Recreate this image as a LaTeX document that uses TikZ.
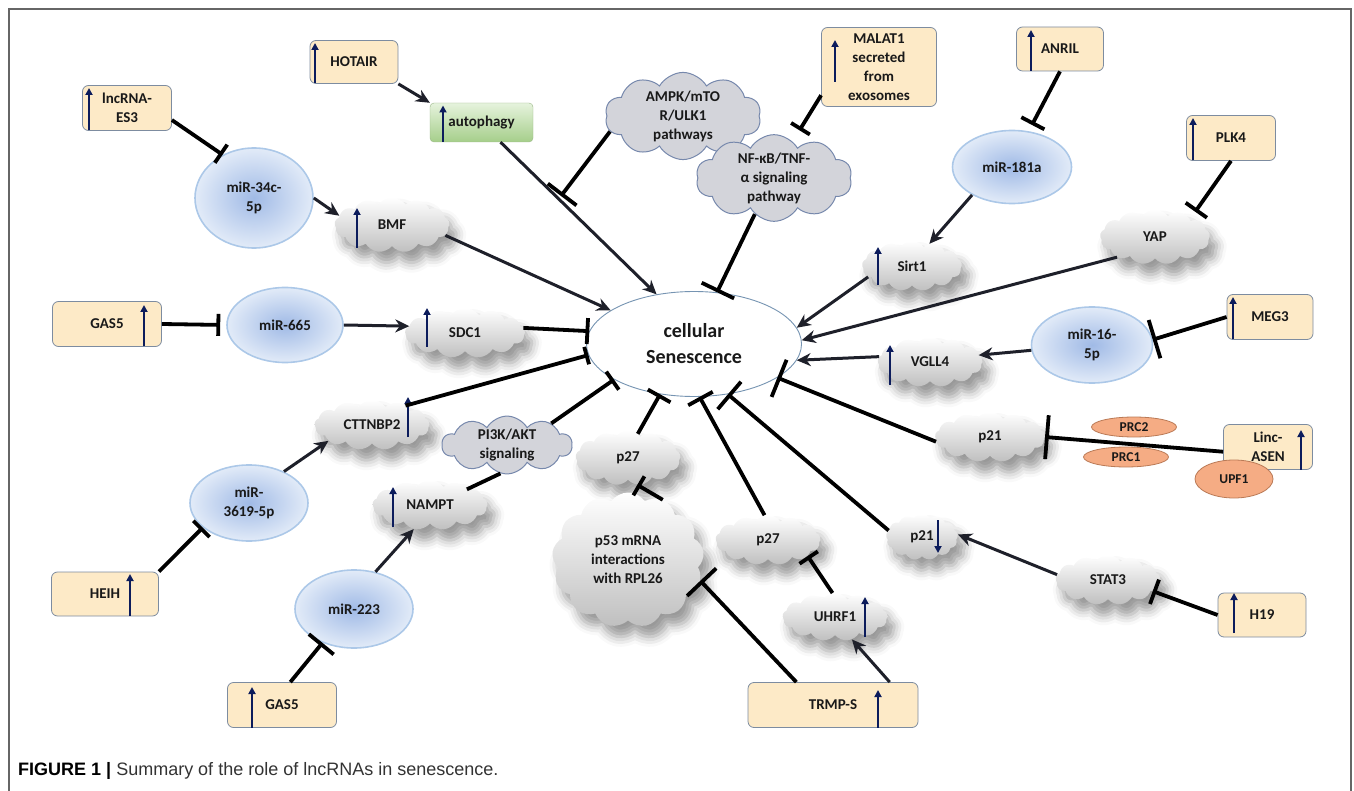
\documentclass[tikz,border=0pt]{standalone}
\usepackage{fontspec}
\setmainfont{Carlito}
\newfontfamily\capfont{Liberation Sans}
\usetikzlibrary{shapes.symbols, shapes.geometric, arrows.meta, shadows.blur}
\definecolor{boxcream}{RGB}{253,234,199}
\definecolor{boxedge}{RGB}{125,140,160}
\definecolor{mirblue}{RGB}{160,186,230}
\definecolor{mirpale}{RGB}{226,235,248}
\definecolor{miredge}{RGB}{172,200,232}
\definecolor{leafgreen}{RGB}{165,206,138}
\definecolor{leafpale}{RGB}{230,243,221}
\definecolor{salmon}{RGB}{245,172,132}
\definecolor{salmonedge}{RGB}{186,122,86}
\definecolor{upnavy}{RGB}{12,28,92}
\definecolor{routegray}{RGB}{211,212,218}
\definecolor{routeedge}{RGB}{118,136,172}
\definecolor{senedge}{RGB}{118,148,178}
\definecolor{linkgray}{RGB}{30,32,42}

\tikzset{
    lbl/.style={font=\fontsize{15}{19}\selectfont\bfseries, text=black!90, align=center, inner sep=0pt},
    rna/.style={lbl, draw=boxedge, fill=boxcream, rounded corners=6pt, line width=0.8pt},
    mir/.style={lbl, ellipse, draw=miredge, line width=1.6pt, inner color=mirblue, outer color=mirpale},
    puff/.style={lbl, cloud, cloud puffs=13, cloud puff arc=110, cloud ignores aspect,
        top color=white, bottom color=gray!50,
        blur shadow={shadow xshift=7pt, shadow yshift=-11pt, shadow blur radius=10pt, shadow opacity=40}},
    route/.style={lbl, cloud, cloud puffs=10, cloud puff arc=120, cloud ignores aspect,
        draw=routeedge, fill=routegray, line width=1pt},
    prot/.style={lbl, ellipse, draw=salmonedge, fill=salmon, line width=0.8pt, font=\fontsize{13.5}{15}\selectfont\bfseries},
    act/.style={draw=linkgray, line width=3pt, -{Stealth[length=14pt, width=13pt]}},
    inh/.style={draw=black, line width=3.8pt, -{Bar[width=#1]}},
    inh/.default=26pt,
    upmark/.style={draw=upnavy, line width=1.9pt, -{Triangle[length=7pt, width=7pt]}}
}

\begin{document}
\begin{tikzpicture}[x=1pt, y=-1pt]
    \useasboundingbox (0,0) rectangle (1354,791);
    \draw[black!60, line width=1.4pt] (9,791) |- (1351,9) -- (1351,791);

    % lncRNA boxes
    \node[rna, minimum width=89pt,  minimum height=45pt] (es3)    at (127,108)  {lncRNA-\\ES3};
    \node[rna, minimum width=88pt,  minimum height=43pt] (hotair) at (354,62)   {HOTAIR};
    \node[rna, minimum width=115pt, minimum height=79pt] (malat)  at (879,67)   {MALAT1\\secreted\\from\\exosomes};
    \node[rna, minimum width=87pt,  minimum height=44pt] (anril)  at (1060,49)  {ANRIL};
    \node[rna, minimum width=89pt,  minimum height=45pt] (plk4)   at (1231,138) {PLK4};
    \node[rna, minimum width=86pt,  minimum height=45pt] (meg3)   at (1270,317) {MEG3};
    \node[rna, minimum width=109pt, minimum height=45pt] (gas5a)  at (107,324)  {GAS5};
    \node[rna, minimum width=107pt, minimum height=44pt] (heih)   at (105,594)  {HEIH};
    \node[rna, minimum width=109pt, minimum height=45pt] (gas5b)  at (282,705)  {GAS5};
    \node[rna, minimum width=170pt, minimum height=45pt] (trmps)  at (833,705)  {TRMP-S};
    \node[rna, minimum width=88pt,  minimum height=44pt] (h19)    at (1262,615) {H19};
    \node[rna, minimum width=89pt,  minimum height=45pt] (asen)   at (1268,447) {Linc-\\ASEN};
    \node[lbl, draw=leafgreen!70!gray, top color=leafpale, bottom color=leafgreen, rounded corners=4pt,
        minimum width=103pt, minimum height=39pt] (autoph) at (481.5,122.5) {autophagy};

    % miRNAs
    \node[mir, minimum width=118pt, minimum height=100pt] (mir34)   at (254,198)  {miR-34c-\\5p};
    \node[mir, minimum width=119pt, minimum height=73pt]  (mir181)  at (1012,167) {miR-181a};
    \node[mir, minimum width=116pt, minimum height=75pt]  (mir665)  at (285,325)  {miR-665};
    \node[mir, minimum width=121pt, minimum height=76pt]  (mir16)   at (1092,345) {miR-16-\\5p};
    \node[mir, minimum width=118pt, minimum height=76pt]  (mir3619) at (249,503)  {miR-\\3619-5p};
    \node[mir, minimum width=118pt, minimum height=78pt]  (mir223)  at (354,609)  {miR-223};

    % targets
    \node[puff, minimum width=115pt, minimum height=55pt]  (bmf)   at (392,225)  {BMF};
    \node[puff, minimum width=120pt, minimum height=50pt]  (sdc)   at (465,333)  {SDC1};
    \node[puff, minimum width=115pt, minimum height=50pt]  (ctt)   at (372,425)  {CTTNBP2};
    \node[puff, minimum width=115pt, minimum height=50pt]  (nampt) at (430,505)  {NAMPT};
    \node[puff, minimum width=100pt, minimum height=50pt]  (sirt)  at (912,266)  {Sirt1};
    \node[puff, minimum width=110pt, minimum height=55pt]  (yap)   at (1155,237) {YAP};
    \node[puff, minimum width=105pt, minimum height=50pt]  (vgll)  at (930,362)  {VGLL4};
    \node[puff, minimum width=110pt, minimum height=50pt]  (p21a)  at (990,437)  {p21};
    \node[puff, minimum width=72pt,  minimum height=46pt]  (p21b)  at (922,537)  {p21};
    \node[puff, minimum width=105pt, minimum height=50pt]  (stat)  at (1108,580) {STAT3};
    \node[puff, minimum width=105pt, minimum height=48pt]  (uhrf)  at (835,617)  {UHRF1};
    \node[puff, minimum width=105pt, minimum height=50pt]  (p27b)  at (768,540)  {p27};
    \node[puff, minimum width=105pt, minimum height=55pt]  (p27a)  at (628,458)  {p27};
    \node[puff, minimum width=152pt, minimum height=135pt] (p53)   at (628,560)  {p53 mRNA\\interactions\\with RPL26};

    \node[route, minimum width=156pt, minimum height=66pt] (ampk) at (683,116) {AMPK/mTO\\R/ULK1\\pathways};
    \node[route, minimum width=156pt, minimum height=66pt] (nfkb) at (774,178) {NF-κB/TNF-\\α signaling\\pathway};
    \node[route, minimum width=130pt, minimum height=48pt] (pi3k) at (507,445) {PI3K/AKT\\signaling};

    \node[lbl, ellipse, draw=senedge, fill=white, line width=0.9pt, minimum width=215pt, minimum height=105pt,
        font=\fontsize{20}{26}\selectfont\bfseries] (sen) at (694,344) {cellular\\Senescence};

    \node[prot, minimum width=85pt, minimum height=20pt] (prc2) at (1134,427) {PRC2};
    \node[prot, minimum width=85pt, minimum height=20pt] (prc1) at (1126,457) {PRC1};
    \node[prot, minimum width=78pt, minimum height=38pt] (upf1) at (1234,479) {UPF1};

    % up / down marks
    \foreach \n/\dx/\ya/\yb in {es3/-38/22.5/-20, hotair/-39/21.5/-19, autoph/-38.5/19.5/-17,
        malat/-44/15/-27, anril/-29/22/-19, plk4/-38/22.5/-20, meg3/-37/22.5/-20,
        gas5a/37/22.5/-19, heih/25/22/-20, gas5b/-30/22.5/-18, trmps/45/22.5/-15,
        h19/-28/18/-22, asen/33/22.5/-17, bmf/-35/23/-17, sdc/-38/14/-25, ctt/36/12/-28,
        nampt/-37/22/-18, sirt/-34/19/-19, vgll/-40/23/-17, uhrf/30/20/-20, p21b/16/-17/16}
        \draw[upmark] ([shift={(\dx,\ya)}]\n.center) -- ([shift={(\dx,\yb)}]\n.center);

    % connectors
    \draw[inh=22pt] (es3.-15) -- (mir34.126);
    \draw[act] (hotair.south east) -- (autoph.north west);
    \draw[act] (mir34.0) -- (bmf.170);
    \draw[act] (bmf.-11) -- (sen.158);
    \draw[act] (autoph.-46) -- (sen.127);
    \coordinate (ampkhit) at (561,196);
    \draw[inh=36pt] (ampk.192) -- (ampkhit);
    \draw[inh=22pt, shorten >=13pt] (malat.206) -- (nfkb.63);
    \draw[inh=36pt] (nfkb.-118) -- (sen.66);
    \draw[inh, shorten >=7pt] (anril.south) -- (mir181.65);
    \draw[act] (mir181.215) -- (sirt.52);
    \draw[act] (sirt.194) -- (sen.9);
    \draw[inh, shorten >=9pt] (plk4.south) -- (yap.27);
    \draw[act] (yap.208) -- (sen.2);
    \draw[inh=40pt] (meg3.west) -- (mir16.5);
    \draw[act] (mir16.185) -- (vgll.8);
    \draw[act] (vgll.174) -- (sen.-9);
    \draw[inh=40pt] (p21a.185) -- (sen.-22);
    \draw[inh=44pt] (asen.186) -- (p21a.0);
    \draw[inh=36pt] (p21b.169) -- (sen.-56);
    \draw[act] (stat.174) -- (p21b.4);
    \draw[inh] (h19.west) -- (stat.-14);
    \draw[inh=28pt] (p27b.98) -- (sen.-84);
    \draw[inh=40pt] (trmps.148) -- (p53.-16);
    \draw[act] (trmps.22) -- (uhrf.-53);
    \draw[inh=22pt] (uhrf.96) -- (p27b.-22);
    \draw[inh=22pt] (p53.60) -- (p27a.-71);
    \draw[inh] (p27a.68) -- (sen.-124);
    \draw[line width=3.8pt] (nampt.23) -- (pi3k.-103);
    \draw[inh=22pt] (pi3k.26) -- (sen.-156);
    \draw[act] (mir223.60) -- (nampt.236);
    \draw[inh=32pt] (gas5b.70) -- (mir223.227);
    \draw[inh=23pt] (heih.north east) -- (mir3619.208);
    \draw[act] (mir3619.42) -- (ctt.200);
    \draw[inh=18pt] (ctt.30) -- (sen.-174);
    \draw[inh] (sdc.5) -- (sen.173);
    \draw[inh=22pt, shorten >=6pt] (gas5a.east) -- (mir665.west);
    \draw[act] (mir665.east) -- (sdc.173);

    \node[anchor=base west, inner sep=0pt, font=\capfont\fontsize{18}{21}\selectfont, text=black!80] (cap) at (18,775)
        {\textbf{\color{black}FIGURE 1 |} Summary of the role of lncRNAs in senescence.};
\end{tikzpicture}
\end{document}
